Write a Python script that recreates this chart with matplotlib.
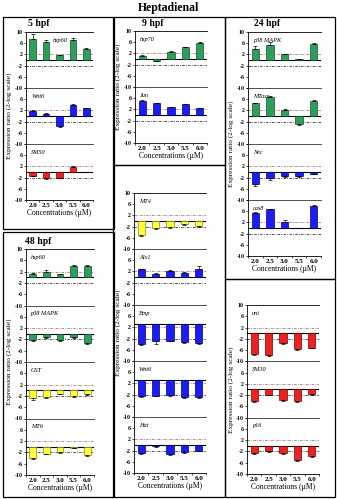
import matplotlib
matplotlib.use("Agg")
import matplotlib.pyplot as plt
from matplotlib.patches import Rectangle

plt.rcParams['font.family'] = ['Liberation Serif', 'DejaVu Serif']

W, H = 337, 499

conc = ["2.0", "2.5", "3.0", "5.5", "6.0"]
yticks = [10, 6, 2, -2, -6, -10]

# ---- 5 hpf ----
hsp60_5 = [7.4, 6.4, 1.7, 7.0, 4.0]
hsp60_5_err = [2.0, 0.8, 0.2, 1.0, 0.3]
wnt6_5 = [1.9, 0.7, -3.4, 3.9, 2.7]
wnt6_5_err = [0.2, 0.2, 0.5, 0.3, 0.3]
sm50_5 = [-1.3, -2.1, -2.0, 1.9, 0.0]
sm50_5_err = [0.3, 0.3, 0.3, 0.3, 0.0]

# ---- 9 hpf ----
hsp70_9 = [1.2, -0.6, 2.6, 4.2, 5.8]
hsp70_9_err = [0.2, 0.2, 0.4, 0.2, 0.2]
jun_9 = [5.0, 4.2, 2.7, 3.9, 2.4]
jun_9_err = [0.3, 0.2, 0.2, 0.2, 0.2]

# ---- 24 hpf ----
p38_24 = [4.1, 5.5, 2.0, 0.2, 5.6]
p38_24_err = [1.0, 1.0, 0.3, 0.2, 0.6]
mtase_24 = [4.6, 6.7, 2.3, -2.9, 5.5]
mtase_24_err = [0.2, 0.3, 0.3, 0.4, 0.3]
nec_24 = [-4.2, -2.3, -1.5, -1.4, -0.6]
nec_24_err = [0.8, 0.7, 0.3, 0.3, 0.2]
cas8_24 = [5.5, 6.7, 2.3, 0.0, 7.9]
cas8_24_err = [0.3, 0.2, 0.4, 0.0, 0.4]

# ---- 48 hpf ----
hsp60_48 = [1.2, 1.9, 1.0, 3.9, 4.0]
hsp60_48_err = [0.3, 0.6, 0.2, 0.3, 0.5]
p38_48 = [-2.1, -1.2, -2.1, -1.2, -3.1]
p38_48_err = [0.3, 0.3, 0.4, 0.3, 0.4]
gst_48 = [-2.9, -2.4, -1.2, -2.0, -1.4]
gst_48_err = [0.4, 0.3, 0.3, 0.3, 0.3]
mt6_48 = [-3.9, -2.4, -1.9, -0.4, -3.0]
mt6_48_err = [0.3, 0.3, 0.3, 0.2, 0.3]

# ---- 48 hpf (continued) ----
mt4_48 = [-5.0, -2.6, -2.3, -1.2, -1.7]
mt4_48_err = [0.4, 0.3, 0.3, 0.3, 0.3]
alx1_48 = [2.7, 1.1, 2.1, 1.5, 3.0]
alx1_48_err = [0.3, 0.2, 0.4, 0.2, 0.8]
bmp_48 = [-3.9, -3.0, -2.7, -3.3, -3.6]
bmp_48_err = [0.3, 0.8, 0.3, 0.3, 0.3]
wnt6_48 = [-2.6, -2.4, -2.3, -2.9, -2.9]
wnt6_48_err = [0.2, 0.2, 0.2, 0.3, 0.3]
hat_48 = [-2.7, -0.4, -3.3, -2.5, -2.1]
hat_48_err = [0.6, 0.2, 0.3, 0.3, 0.2]

# ---- 48 hpf (skeletogenic) ----
uni_48 = [-7.3, -7.9, -3.4, -5.5, -5.1]
uni_48_err = [0.5, 0.3, 0.4, 0.3, 0.3]
sm30_48 = [-4.0, -1.8, -3.8, -4.2, -1.5]
sm30_48_err = [0.6, 0.2, 0.3, 0.3, 0.3]
p16_48 = [-2.7, -1.9, -2.5, -5.1, -3.6]
p16_48_err = [0.3, 0.3, 0.3, 0.2, 0.3]

GREEN = ("#2e9e5b", "#14502c")
BLUE = ("#1c1cf5", "#00006e")
RED = ("#ec2222", "#7a0000")
YELLOW = ("#ffff3a", "#8a8a00")

fig = plt.figure(figsize=(W / 100, H / 100), dpi=100)


def fx(x):
    return x / W


def fy(y):
    return 1 - y / H


def panel(x0, x1, y0, y1, subs, ylab_x, label_x=0.07):
    n = len(subs)
    h = (y1 - y0) / n
    for i, (gene, vals, errs, col, base) in enumerate(subs):
        top = y0 + i * h
        ax = fig.add_axes([fx(x0), fy(top + h), fx(x1) - fx(x0), h / H])
        ax.set_xlim(-0.5, 4.5)
        ax.set_ylim(-10, 10)
        xs = range(len(vals))
        heights = [v - base for v in vals]
        ax.bar(xs, heights, bottom=base, width=0.5, color=col[0],
               edgecolor=col[1], linewidth=0.5, zorder=3)
        ax.errorbar(xs, vals, yerr=[[0 if v > base else e for v, e in zip(vals, errs)],
                                    [e if v > base else 0 for v, e in zip(vals, errs)]],
                    fmt="none", ecolor="black", elinewidth=0.5, capsize=1.2,
                    capthick=0.5, zorder=4)
        ax.axhline(base, color="black", lw=0.8, zorder=2)
        ax.axhline(2, color="#b07070", lw=0.6, ls=(0, (3, 1.5, 1, 1.5)), zorder=1)
        ax.axhline(-2, color="#303030", lw=0.6, ls=(0, (3, 1.5, 1, 1.5)), zorder=1)
        ax.set_yticks(yticks)
        labs = [str(t) for t in yticks]
        if i > 0:
            labs[0] = ""
        ax.set_yticklabels(labs, fontsize=4.2, fontweight="bold")
        ax.tick_params(axis="y", length=1.5, width=0.5, pad=1)
        ax.spines["right"].set_visible(False)
        ax.spines["left"].set_linewidth(0.6)
        ax.spines["top"].set_linewidth(0.6)
        ax.spines["top"].set_color("#333333" if i > 0 else "black")
        ax.patch.set_alpha(0)
        lx = label_x[i] if isinstance(label_x, (list, tuple)) else label_x
        ax.text(lx, 0.9, gene, transform=ax.transAxes, fontsize=4.5,
                style="italic", va="top", ha="left")
        if i < n - 1:
            ax.spines["bottom"].set_visible(False)
            ax.set_xticks([])
        else:
            ax.spines["bottom"].set_linewidth(0.6)
            ax.set_xticks([k + 0.5 for k in range(-1, 5)])
            ax.set_xticklabels([])
            ax.set_xticks(list(xs), minor=True)
            ax.set_xticklabels(conc, minor=True, fontsize=5, fontweight="bold")
            ax.tick_params(axis="x", which="major", length=1.5, width=0.5)
            ax.tick_params(axis="x", which="minor", length=0, pad=2)
            ax.set_xlabel("Concentrations (\u00b5M)", fontsize=5.5, labelpad=1)
    fig.text(fx(ylab_x), fy((y0 + y1) / 2), "Expression ratio (2-log scale)",
             rotation=90, fontsize=5.2, ha="center", va="center")


# 5 hpf
panel(26, 93, 32, 200,
      [("hsp60", hsp60_5, hsp60_5_err, GREEN, 0),
       ("Wnt6", wnt6_5, wnt6_5_err, BLUE, 0),
       ("SM50", sm50_5, sm50_5_err, RED, 0)],
      ylab_x=9, label_x=[0.4, 0.08, 0.08])

# 9 hpf
panel(135, 207, 31, 143,
      [("hsp70", hsp70_9, hsp70_9_err, GREEN, 0),
       ("Jun", jun_9, jun_9_err, BLUE, 0)],
      ylab_x=118)

# 24 hpf
panel(248, 321, 32, 256,
      [("p38 MAPK", p38_24, p38_24_err, GREEN, 0),
       ("MTase", mtase_24, mtase_24_err, GREEN, 0),
       ("Nec", nec_24, nec_24_err, BLUE, 0),
       ("cas8", cas8_24, cas8_24_err, BLUE, 0)],
      ylab_x=231)

# 48 hpf
panel(26, 94, 249, 475,
      [("hsp60", hsp60_48, hsp60_48_err, GREEN, 0),
       ("p38 MAPK", p38_48, p38_48_err, GREEN, 0),
       ("GST", gst_48, gst_48_err, YELLOW, 0),
       ("MT6", mt6_48, mt6_48_err, YELLOW, 0)],
      ylab_x=9)

panel(134, 206, 193, 473,
      [("MT4", mt4_48, mt4_48_err, YELLOW, 0),
       ("Alx1", alx1_48, alx1_48_err, BLUE, 0),
       ("Bmp", bmp_48, bmp_48_err, BLUE, 3.2),
       ("Wnt6", wnt6_48, wnt6_48_err, BLUE, 3.2),
       ("Hat", hat_48, hat_48_err, BLUE, 0)],
      ylab_x=118)

panel(247, 319, 305, 474,
      [("uni", uni_48, uni_48_err, RED, 0),
       ("SM30", sm30_48, sm30_48_err, RED, 0),
       ("p16", p16_48, p16_48_err, RED, 0)],
      ylab_x=231)

# frames around each group of panels
for (x0, y0, x1, y1) in [(3, 17, 114, 229), (113, 17, 225, 165), (225, 17, 335, 279),
                         (3, 232, 114, 497), (113, 165, 225, 497), (225, 279, 335, 497)]:
    fig.add_artist(Rectangle((fx(x0), fy(y1)), fx(x1) - fx(x0), (y1 - y0) / H,
                             transform=fig.transFigure, fill=False, lw=0.9,
                             edgecolor="black"))

fig.text(0.5, fy(8), "Heptadienal", ha="center", va="center",
         fontsize=8.5, fontweight="bold")
for txt, x, y in [("5 hpf", 28, 24), ("9 hpf", 142, 24), ("24 hpf", 254, 24),
                  ("48 hpf", 25, 242)]:
    fig.text(fx(x), fy(y), txt, ha="left", va="center", fontsize=7,
             fontweight="bold")

fig.savefig("out.png", dpi=100)
